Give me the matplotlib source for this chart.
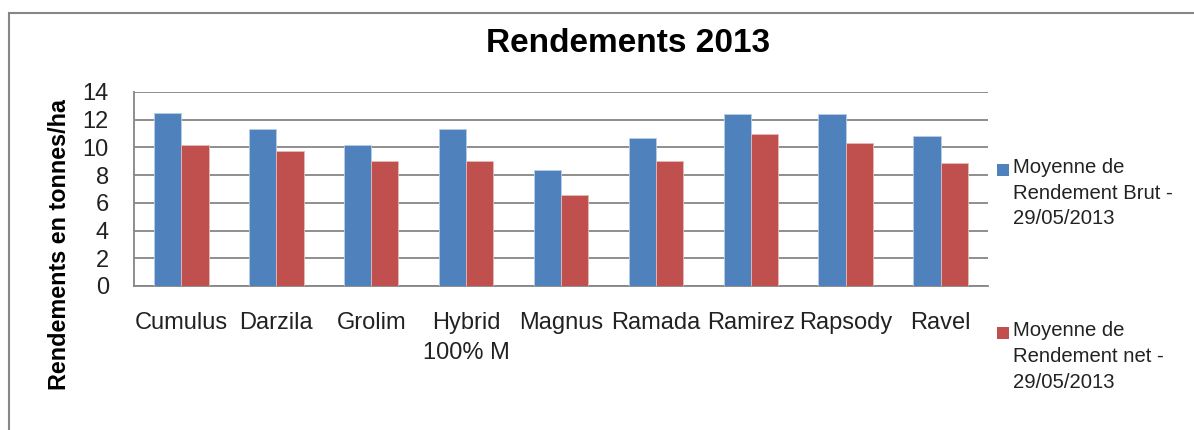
import matplotlib
matplotlib.use("Agg")
import matplotlib.pyplot as plt
from matplotlib.patches import Rectangle
import numpy as np

categories = ["Cumulus", "Darzila", "Grolim", "Hybrid\n100% M", "Magnus",
              "Ramada", "Ramirez", "Rapsody", "Ravel"]
brut = [12.45, 11.3, 10.15, 11.3, 8.35, 10.65, 12.4, 12.4, 10.8]
net = [10.15, 9.75, 9.0, 9.05, 6.55, 9.0, 11.0, 10.3, 8.9]
series_labels = ["Moyenne de\nRendement Brut -\n29/05/2013",
                 "Moyenne de\nRendement net -\n29/05/2013"]
colors = ["#4F81BD", "#C0504D"]
yticks = [0, 2, 4, 6, 8, 10, 12, 14]

plt.rcParams['font.family'] = ['Liberation Sans', 'DejaVu Sans']

W, H = 1194, 430
fig = plt.figure(figsize=(W / 100, H / 100), dpi=100)

# outer chart border
fig.patches.append(Rectangle((9 / W, -0.1), 1.2, 1 - 13 / H + 0.1,
                             transform=fig.transFigure, fill=False,
                             edgecolor="#868686", linewidth=1.5))

ax = fig.add_axes([134 / W, 1 - 286 / H, (988 - 134) / W, (286 - 92) / H])
x = np.arange(len(categories))
bw = 0.287
ax.bar(x - bw / 2, brut, bw, color=colors[0], edgecolor="#b9cde5", linewidth=0.6, zorder=3)
ax.bar(x + bw / 2, net, bw, color=colors[1], edgecolor="#e6b9b8", linewidth=0.6, zorder=3)

ax.set_xlim(-0.5, len(categories) - 0.5)
ax.set_ylim(0, 14)
ax.set_yticks(yticks)
ax.set_yticklabels([str(v) for v in yticks], fontsize=17, color="#222222")
ax.set_xticks(x)
ax.set_xticklabels(categories, fontsize=17, linespacing=1.45, color="#222222")
ax.tick_params(axis='x', length=0, pad=19)
ax.tick_params(axis='y', length=0, pad=18)
ax.grid(axis='y', color="#868686", linewidth=1.3, zorder=0)
for s in ["top", "right"]:
    ax.spines[s].set_visible(False)
for s in ["left", "bottom"]:
    ax.spines[s].set_color("#868686")
    ax.spines[s].set_linewidth(1.3)

fig.text(628 / W, 1 - 43 / H, "Rendements 2013", fontsize=24, fontweight='bold',
         ha='center', va='center')
fig.text(60 / W, 1 - 245 / H, "Rendements en tonnes/ha", fontsize=16.8,
         fontweight='bold', rotation=90, ha='center', va='center')

# legend
leg_tops = [164, 327]
for lab, col, top in zip(series_labels, colors, leg_tops):
    fig.patches.append(Rectangle((997 / W, 1 - (top + 12) / H), 12 / W, 12 / H,
                                 transform=fig.transFigure, facecolor=col,
                                 edgecolor='none'))
    fig.text(1013 / W, 1 - (top - 6) / H, lab, fontsize=14.6, ha='left', va='top',
             linespacing=1.45, color="#222222")

fig.savefig("out.png", dpi=100)
